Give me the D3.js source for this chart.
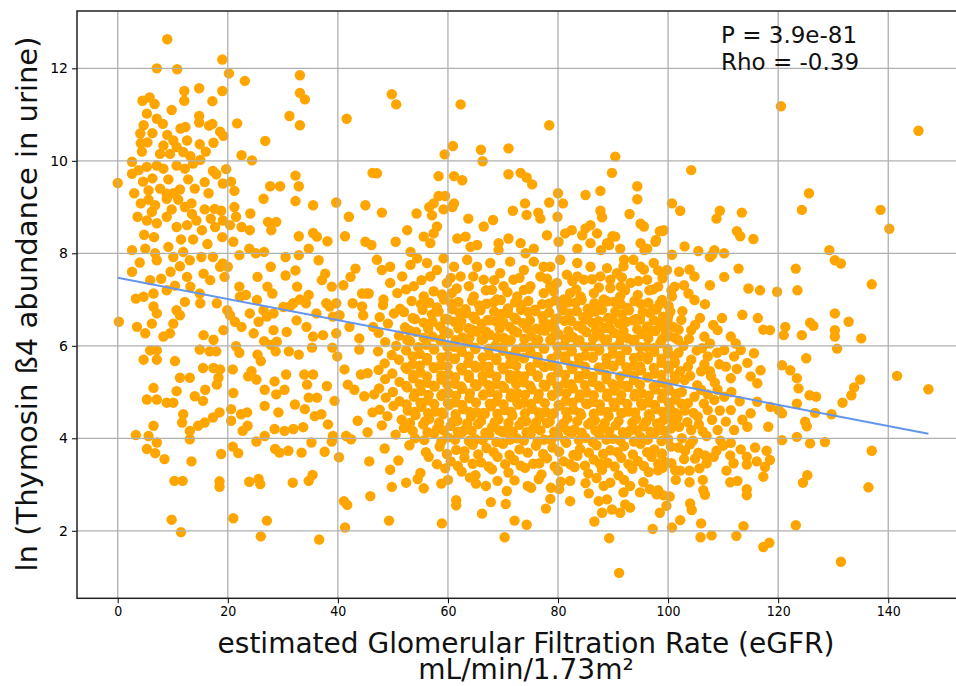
<!DOCTYPE html>
<html>
<head>
<meta charset="utf-8">
<script src="https://cdn.jsdelivr.net/npm/d3@7"></script>
<style>
  body { margin: 0; background: #fff; }
  svg { display: block; font-family: "DejaVu Sans", sans-serif; }
</style>
</head>
<body>
<svg id="chart" width="956" height="686"></svg>
<script>
// tick values and labels
const xTicks = [0, 20, 40, 60, 80, 100, 120, 140];
const yTicks = [2, 4, 6, 8, 10, 12];
const xLabel = ["estimated Glomerular Filtration Rate (eGFR)", "mL/min/1.73m\u00B2"];
const yLabel = "ln (Thymosin \u00DF4 abundance in urine)";
const statText = ["P = 3.9e-81", "Rho = -0.39"];

// regression line end points (eGFR, ln value)
const fitEgfr = [0, 147.3];
const fitLn = [7.47, 4.10];

// points with eGFR below ~47
const lowEgfrPts = [
[9.0,12.63],[7.1,12.0],[10.8,11.98],[19.0,12.19],[20.2,11.89],[23.1,11.73],[33.1,11.85],[33.1,11.47],[34.0,11.33],[31.2,10.97],[33.1,10.77],[41.6,10.91],[12.1,11.51],[12.1,11.3],[14.8,11.57],[19.0,11.51],[17.2,11.29],[4.5,11.3],[5.8,11.37],[6.7,11.23],[5.3,11.02],[7.1,10.91],[14.8,10.97],[14.8,10.83],[16.6,10.76],[17.2,10.8],[21.7,10.81],[4.7,10.77],[4.1,10.59],[4.2,10.38],[4.4,10.2],[5.4,10.4],[9.0,10.56],[11.4,10.7],[12.3,10.73],[12.6,10.44],[10.7,10.3],[8.3,10.33],[7.7,10.15],[9.5,10.15],[11.9,10.19],[10.1,10.44],[14.9,10.36],[17.4,10.39],[18.6,10.63],[19.2,10.54],[26.8,10.43],[22.5,10.12],[24.4,10.01],
[2.6,9.98],[2.6,9.72],[3.8,9.8],[5.3,9.87],[7.1,9.9],[8.3,9.83],[10.7,9.9],[12.2,9.83],[13.7,9.94],[15.0,10.02],[0,9.52],[5.6,9.36],[7.7,9.4],[8.9,9.29],[11.3,9.38],[14.0,9.4],[15.8,9.54],[17.3,9.78],[17.9,9.71],[19.7,9.82],[19.1,9.51],[20.6,9.55],[21.2,9.35],[27.7,9.45],[29.5,9.45],[32.3,9.68],[32.9,9.45],[26.5,9.18],[32.3,9.13],[35.5,9.04],[39.7,9.1],[45.0,9.04],[46.3,9.74],
[4.2,9.08],[3.6,8.79],[5.6,9.16],[6.8,9.04],[8.9,9.18],[11.0,9.16],[12.2,9.0],[13.4,9.08],[15.8,8.95],[17.6,8.96],[18.8,8.92],[21.2,9.0],[21.5,8.79],[24.1,8.86],[5.3,8.71],[7.1,8.65],[8.9,8.79],[10.7,8.57],[12.6,8.61],[14.3,8.71],[15.3,8.5],[17.7,8.57],[19.1,8.71],[20.4,8.61],[22.5,8.57],[24.0,8.5],[27.3,8.68],[28.8,8.68],[27.9,8.5],[32.9,8.37],[35.5,8.44],[36.2,8.36],[38.1,8.26],[41.3,8.37],[42.0,8.79],[45.0,8.25],[46.1,8.18],
[2.6,8.07],[5.0,8.1],[6.8,8.0],[7.1,7.85],[9.2,8.14],[10.1,7.92],[11.9,8.03],[13.1,7.85],[15.2,7.92],[17.3,7.92],[19.1,7.78],[20.0,7.71],[22.1,7.96],[23.9,8.1],[25.1,8.0],[26.6,8.03],[27.8,7.71],[30.5,7.92],[32.9,7.96],[34.7,8.1],[36.5,7.85],[37.7,7.56],[37.1,7.42],[38.9,7.28],[41.0,7.31],[43.2,7.67],[42.3,7.49],[44.4,7.13],[45.6,7.13],
[2.6,7.6],[5.9,7.42],[6.5,7.13],[4.7,7.06],[3.3,7.02],[8.9,7.2],[12.6,7.49],[13.2,7.28],[14.9,7.13],[15.6,7.56],[16.8,7.42],[18.6,7.71],[19.4,7.49],[22.1,7.28],[23.3,7.1],[25.4,7.49],[27.2,7.28],[28.1,7.13],[30.5,7.52],[32.3,7.63],[32.6,7.28],[34.7,7.1],
[3.0,9.3],[4.6,9.55],[6.3,9.62],[9.2,9.6],[10.1,9.3],[12.8,9.6],[16.5,9.3],[6.2,8.9],[9.8,8.95],[13.5,8.85],[16.9,8.75],[4.8,8.4],[6.6,8.35],[11.5,8.3],[13.7,8.3],[16.3,8.2],[19.0,8.35],[21.0,8.25],[9.6,7.6],[11.3,7.72],[7.9,7.45],[4.0,7.8],[10.4,7.3],[6.3,10.6],[8.2,10.8],[13.2,10.1],[16.0,10.2],[9.8,11.1],
[6.5,6.85],[7.1,6.7],[10.7,6.77],[15.0,6.92],[18.0,6.92],[19.9,6.77],[20.4,6.66],[25.3,6.99],[26.5,6.77],[28.3,6.7],[31.3,6.85],[34.2,6.92],[36.1,6.7],[38.5,6.85],[40.3,6.66],[42.7,6.92],[44.4,6.85],[0.2,6.52],
[6.2,6.48],[5.0,6.27],[3.5,6.41],[8.3,6.2],[9.5,6.27],[10.1,6.48],[11.3,6.66],[12.2,6.95],[15.6,6.23],[17.4,6.13],[19.2,6.34],[21.3,6.52],[22.2,7.06],[22.5,6.41],[24.0,6.7],[24.7,6.27],[25.6,6.52],[27.1,6.63],[28.3,6.34],[28.9,6.09],[30.7,6.3],[30.1,6.84],[31.9,6.92],[33.1,7.0],[32.5,6.55],[34.3,6.41],[35.5,6.2],[37.3,6.23],[37.9,6.92],[39.7,6.92],[39.1,6.63],[39.7,6.27],[42.1,6.41],[43.9,6.16],[44.6,6.66],[46.4,6.41],[45.2,7.13],
[5.9,5.9],[7.1,5.9],[4.7,5.7],[7.1,5.7],[10.4,5.67],[14.9,5.92],[16.7,5.88],[17.9,5.88],[21.5,5.99],[22.1,5.85],[26.6,6.1],[27.8,6.02],[25.4,5.81],[26.0,5.67],[28.7,5.88],[31.1,5.88],[32.9,5.81],[35.3,5.96],[39.0,5.96],[39.9,5.77],[43.9,5.92],[11.3,5.31],[13.1,5.31],[10.7,5.02],[15.5,5.52],[17.4,5.52],[18.6,5.49],[18.3,5.31],[18.0,5.16],[15.9,5.05],[20.9,5.49],[21.0,4.98],[23.7,5.34],[24.3,5.45],[25.2,5.27],[26.7,5.05],[28.5,5.23],[30.6,5.38],[28.8,4.95],[30.3,5.05],[33.9,5.38],[35.5,5.38],[34.4,5.16],[38.0,5.13],[36.2,4.88],[34.7,4.88],[39.4,4.81],[41.2,5.49],[41.8,5.16],[43.0,5.05],[44.2,5.38],[45.4,5.41],[44.8,4.91],[46.6,4.95],
[6.5,5.09],[7.1,4.84],[5.3,4.84],[8.9,4.77],[10.1,4.77],[11.9,4.52],[14.0,4.91],[15.5,4.81],[11.7,4.34],[13.1,4.16],[13.1,3.98],[14.6,4.27],[15.8,4.34],[17.3,4.45],[18.5,4.56],[20.6,4.63],[20.6,4.38],[22.4,4.52],[23.5,4.56],[22.7,4.16],[23.6,4.27],[26.7,4.7],[26.7,4.05],[28.5,4.2],[29.2,4.56],[30.3,4.16],[31.9,4.2],[32.2,4.73],[34.0,4.63],[33.7,4.24],[35.8,4.48],[37.0,4.52],[38.2,4.3],[39.1,4.05],[41.5,4.05],[42.4,3.98],[43.6,4.38],[45.4,4.13],[46.3,4.56],[6.5,4.27],[5.6,4.05],[3.3,4.07],
[7.1,3.91],[5.3,3.77],[6.8,3.68],[8.5,3.55],[13.4,3.5],[18.8,3.66],[20.9,3.82],[21.9,3.68],[25.2,3.93],[28.6,3.77],[29.4,3.69],[31.0,3.73],[33.4,3.69],[35.2,3.91],[37.6,3.71],[38.9,3.93],[40.2,3.59],[45.7,3.5],[10.3,3.08],[11.8,3.08],[18.5,3.07],[18.5,2.95],[23.9,3.06],[25.6,3.12],[25.9,3.01],[31.8,3.04],[34.7,3.08],[35.4,3.21],[41.1,2.64],[41.7,2.56],[45.9,2.75],[9.8,2.24],[11.5,1.97],[21.0,2.27],[27.1,2.22],[26.0,1.88],[36.6,1.81],[41.3,2.07]
];

// points with eGFR about 47 to 101, upper part (above ~7)
const midUpperPts = [
[49.8,11.44],[50.6,11.22],[62.3,11.22],[78.4,10.77],[60.9,10.32],[59.4,10.14],[66.0,10.24],[66.3,9.99],[71.0,10.27],[90.4,10.09],[89.8,9.74],[47.1,9.73],[58.3,9.67],[61.1,9.67],[62.6,9.58],[71.0,9.71],[73.2,9.74],[74.3,9.64],[75.3,9.49],[80.0,9.3],[78.4,9.1],[80.9,9.08],[85.0,9.26],[87.7,9.35],[94.4,9.45],[94.4,9.17],[58.3,9.24],[59.5,9.24],[57.4,9.08],[56.6,9.0],[61.1,9.08],[60.8,9.0],[48.0,8.88],[54.3,8.86],[59.2,8.95],[63.7,8.75],[68.2,8.72],[71.8,8.92],[74.0,9.08],[74.3,8.83],[76.4,8.88],[79.9,8.79],[87.7,8.92],[88.0,8.78],[93.0,8.85],
[52.6,8.5],[57.1,8.82],[58.0,8.58],[55.6,8.36],[56.8,8.22],[50.5,8.25],[53.2,8.03],[57.4,8.43],[61.7,8.32],[63.2,8.36],[64.1,8.14],[65.3,8.18],[66.5,8.58],[69.2,8.22],[69.2,8.07],[71.0,8.32],[73.2,8.22],[74.1,8.0],[76.8,8.75],[75.6,8.1],[78.0,8.39],[80.1,8.25],[81.3,8.43],[82.5,8.5],[84.4,8.39],[85.0,8.54],[85.9,8.61],[87.1,8.43],[90.4,8.36],[91.3,8.1],[95.6,8.58],[97.7,8.25],[99.2,8.5],[95.0,8.22],[96.2,8.1],[83.5,8.1],[85.9,8.22],[88.9,8.22],
[95.0,8.64],[98.5,8.48],[95.7,8.07],[89.9,8.37],[89.3,8.18],[87.8,8.07],[93.7,7.86],[95.6,7.65],[91.9,7.72],[88.9,7.68],[89.5,7.43],[91.4,7.28],[94.5,7.1],[96.6,7.2],[98.2,7.28],
[47.1,7.86],[49.5,7.71],[48.0,7.64],[51.7,7.5],[53.2,7.75],[54.4,7.89],[56.2,7.79],[56.8,7.5],[53.8,7.29],[55.6,7.07],[50.8,7.14],[48.3,7.0],[49.5,7.36],[58.0,7.64],[59.2,7.89],[59.8,7.36],[58.9,7.11],[61.1,7.71],[62.3,7.5],[63.5,7.86],[63.8,7.29],[65.3,7.71],[66.5,7.43],[67.7,7.79],[68.0,7.21],[69.5,7.57],[70.1,7.29],[71.3,7.82],[71.9,7.43],[72.6,7.07],[73.8,7.64],[75.0,7.29],[75.6,7.82],[76.8,7.5],[77.4,7.14],[78.6,7.71],[79.8,7.36],[80.4,7.86],[81.6,7.54],[82.2,7.14],[83.5,7.79],[84.7,7.43],[85.9,7.71],[86.5,7.14],[87.7,7.5],[89.5,7.25],[90.7,7.57],[92.0,7.86],[93.2,7.36],[95.0,7.71],[96.2,7.43],[97.4,7.79],[99.8,7.64],[100.7,7.07],[60.7,7.14],[64.7,7.07],[68.9,7.0],[73.8,7.21],[78.6,7.29],[81.0,7.0],[84.1,7.07],[88.3,7.0],[91.3,7.07],[83.5,7.5],[77.4,7.71],
[52.4,7.22],[57.4,7.18],[61.6,7.24],[66.9,7.2],[70.8,7.16],[74.7,7.23],[79.2,7.18],[83.3,7.22],[87.4,7.26],[92.2,7.2],[97.3,7.22],
[55.2,7.42],[60.5,7.47],[64.6,7.5],[68.4,7.42],[73.0,7.47],[78.0,7.45],[82.6,7.4],[86.2,7.44],[91.6,7.48],[94.6,7.4],[99.0,7.46]
];

// points with eGFR about 47 to 101, dense core (ln value ~3 to 7)
const midCorePts = [
[48.2,6.88],[51.3,6.8],[55.1,6.9],[58.0,6.83],[60.6,6.92],[63.2,6.79],[65.7,6.87],[68.3,6.94],[70.9,6.81],[73.4,6.89],[75.8,6.78],[78.3,6.91],[80.6,6.84],[83.2,6.93],[85.4,6.8],[87.7,6.88],[90.2,6.95],[92.6,6.82],[95.1,6.9],[97.6,6.79],[100.1,6.86],
[47.6,6.62],[50.2,6.7],[53.6,6.6],[57.1,6.68],[59.5,6.58],[62.1,6.72],[64.6,6.63],[67.2,6.56],[69.7,6.69],[72.1,6.61],[74.6,6.73],[77.2,6.64],[79.6,6.57],[82.1,6.7],[84.6,6.62],[86.8,6.74],[89.1,6.6],[91.6,6.68],[94.2,6.58],[96.7,6.71],[99.1,6.63],
[49.1,6.48],[52.2,6.4],[55.6,6.5],[58.6,6.42],[61.2,6.52],[63.7,6.38],[66.1,6.47],[68.7,6.53],[71.2,6.41],[73.6,6.49],[76.1,6.37],[78.7,6.46],[81.2,6.54],[83.6,6.43],[86.2,6.5],[88.6,6.39],[91.1,6.48],[93.7,6.55],[96.2,6.42],[98.6,6.47],[101.0,6.4],
[47.4,6.28],[51.1,6.22],[54.2,6.3],[57.2,6.2],[60.1,6.27],[62.6,6.18],[65.2,6.31],[67.6,6.24],[70.2,6.17],[72.6,6.29],[75.1,6.21],[77.6,6.33],[80.1,6.25],[82.7,6.19],[85.1,6.3],[87.6,6.22],[90.2,6.28],[92.7,6.16],[95.2,6.26],[97.7,6.32],[100.2,6.21],
[48.6,6.08],[50.6,6.0],[53.1,6.1],[56.1,6.02],[58.6,6.12],[61.1,5.98],[63.6,6.07],[66.1,6.13],[68.6,6.0],[71.1,6.09],[73.6,5.97],[76.1,6.06],[78.6,6.12],[81.1,6.01],[83.6,6.08],[86.1,5.99],[88.6,6.1],[91.1,6.03],[93.6,6.11],[96.1,5.98],[98.6,6.06],
[47.3,5.88],[49.8,5.8],[52.4,5.9],[54.9,5.82],[57.5,5.92],[60.0,5.78],[62.5,5.87],[65.0,5.93],[67.5,5.8],[70.0,5.89],[72.5,5.77],[75.0,5.86],[77.5,5.94],[80.0,5.81],[82.5,5.88],[85.0,5.79],[87.5,5.9],[90.0,5.83],[92.5,5.91],[95.0,5.78],[97.5,5.87],[100.0,5.84],
[48.5,5.62],[51.1,5.7],[53.6,5.6],[56.2,5.68],[58.7,5.58],[61.2,5.72],[63.7,5.63],[66.3,5.56],[68.8,5.69],[71.3,5.61],[73.8,5.73],[76.3,5.64],[78.8,5.57],[81.3,5.7],[83.8,5.62],[86.3,5.74],[88.8,5.6],[91.3,5.68],[93.8,5.58],[96.3,5.71],[98.8,5.63],[101.2,5.66],
[47.4,5.48],[49.9,5.4],[52.5,5.5],[55.0,5.42],[57.5,5.52],[60.1,5.38],[62.6,5.47],[65.1,5.53],[67.6,5.41],[70.1,5.49],[72.6,5.37],[75.1,5.46],[77.6,5.54],[80.1,5.43],[82.6,5.5],[85.1,5.39],[87.6,5.48],[90.1,5.55],[92.6,5.42],[95.1,5.47],[97.6,5.4],[100.1,5.51],
[48.6,5.28],[51.2,5.22],[53.7,5.3],[56.2,5.2],[58.8,5.27],[61.3,5.18],[63.8,5.31],[66.3,5.24],[68.8,5.17],[71.3,5.29],[73.8,5.21],[76.3,5.33],[78.8,5.25],[81.3,5.19],[83.8,5.3],[86.3,5.22],[88.8,5.28],[91.3,5.16],[93.8,5.26],[96.3,5.32],[98.8,5.21],[101.3,5.27],
[47.5,5.08],[50.0,5.0],[52.6,5.1],[55.1,5.02],[57.6,5.12],[60.1,4.98],[62.6,5.07],[65.2,5.13],[67.7,5.0],[70.2,5.09],[72.7,4.97],[75.2,5.06],[77.7,5.12],[80.2,5.01],[82.7,5.08],[85.2,4.99],[87.7,5.1],[90.2,5.03],[92.7,5.11],[95.2,4.98],[97.7,5.06],[100.2,5.04],
[48.7,4.88],[51.2,4.8],[53.8,4.9],[56.3,4.82],[58.8,4.92],[61.3,4.78],[63.9,4.87],[66.4,4.93],[68.9,4.8],[71.4,4.89],[73.9,4.77],[76.4,4.86],[78.9,4.94],[81.4,4.81],[83.9,4.88],[86.4,4.79],[88.9,4.9],[91.4,4.83],[93.9,4.91],[96.4,4.78],[98.9,4.87],[101.3,4.84],
[47.6,4.62],[50.1,4.7],[52.7,4.6],[55.2,4.68],[57.7,4.58],[60.2,4.72],[62.8,4.63],[65.3,4.56],[67.8,4.69],[70.3,4.61],[72.8,4.73],[75.3,4.64],[77.8,4.57],[80.3,4.7],[82.8,4.62],[85.3,4.74],[87.8,4.6],[90.3,4.68],[92.8,4.58],[95.3,4.71],[97.8,4.63],[100.3,4.66],
[49.0,4.48],[51.6,4.4],[54.1,4.5],[56.6,4.42],[59.1,4.52],[61.7,4.38],[64.2,4.47],[66.7,4.53],[69.2,4.41],[71.7,4.49],[74.2,4.37],[76.7,4.46],[79.2,4.54],[81.7,4.43],[84.2,4.5],[86.7,4.39],[89.2,4.48],[91.7,4.55],[94.2,4.42],[96.7,4.47],[99.2,4.4],[101.5,4.51],
[48.0,4.28],[52.0,4.22],[55.5,4.3],[58.0,4.2],[60.5,4.27],[63.0,4.18],[65.5,4.31],[68.0,4.24],[70.5,4.17],[73.0,4.29],[75.5,4.21],[78.0,4.33],[80.5,4.25],[83.0,4.19],[85.5,4.3],[88.0,4.22],[90.5,4.28],[93.0,4.16],[95.5,4.26],[98.0,4.32],[100.5,4.21],
[50.5,4.08],[54.0,4.0],[57.5,4.1],[60.0,4.02],[62.5,4.12],[65.0,3.98],[67.5,4.07],[70.0,4.13],[72.5,4.0],[75.0,4.09],[77.5,3.97],[80.0,4.06],[82.5,4.12],[85.0,4.01],[87.5,4.08],[90.0,3.99],[92.5,4.1],[95.0,4.03],[97.5,4.11],[100.0,3.98],
[48.5,3.78],[53.0,3.85],[58.5,3.82],[61.5,3.75],[64.5,3.86],[67.0,3.79],[70.0,3.88],[73.0,3.76],[76.0,3.84],[79.0,3.8],[81.5,3.9],[84.0,3.77],[87.0,3.85],[89.5,3.74],[92.0,3.83],[95.0,3.88],[97.5,3.76],[100.5,3.82],
[51.0,3.52],[56.5,3.6],[60.5,3.5],[63.0,3.58],[66.0,3.48],[69.0,3.6],[72.0,3.53],[75.5,3.45],[78.0,3.57],[81.0,3.5],[83.5,3.62],[86.5,3.54],[89.0,3.47],[91.5,3.58],[94.5,3.51],[97.0,3.6],[99.5,3.49],
[49.5,3.32],[55.0,3.25],[59.5,3.35],[62.5,3.28],[65.0,3.2],[68.0,3.33],[71.0,3.26],[74.0,3.36],[77.0,3.22],[80.0,3.3],[83.0,3.38],[85.5,3.24],[88.0,3.32],[91.0,3.2],[93.5,3.34],[96.5,3.27],[99.0,3.36],
[54.5,3.12],[60.0,3.1],[64.0,3.15],[69.0,3.08],[76.5,3.12],[80.5,3.06],[87.0,3.14],[92.0,3.1],[95.5,3.05]
];

// more points in the packed core, between the rows above
const midCoreFill = [
[53.4,6.97],[56.6,6.93],[59.3,7.0],[61.9,6.95],[64.4,6.98],[67.0,6.91],[69.6,6.99],[72.2,6.94],[74.6,6.97],[77.1,6.9],[79.5,6.98],[81.9,6.94],[84.3,6.99],[86.6,6.92],[89.0,6.96],[91.4,6.9],[93.9,6.97],[96.4,6.93],[98.9,6.99],
[52.0,6.73],[55.4,6.78],[58.3,6.74],[60.8,6.79],[63.3,6.71],[65.9,6.77],[68.4,6.74],[70.9,6.71],[73.3,6.78],[75.9,6.75],[78.4,6.72],[80.9,6.77],[83.4,6.75],[85.7,6.71],[88.0,6.78],[90.4,6.74],[92.9,6.77],[95.4,6.73],[97.9,6.79],[100.4,6.74],
[54.0,6.58],[57.2,6.52],[60.0,6.57],[62.4,6.53],[64.9,6.58],[67.5,6.55],[70.0,6.52],[72.4,6.57],[74.9,6.55],[77.4,6.52],[79.9,6.59],[82.4,6.54],[84.9,6.57],[87.4,6.53],[89.9,6.58],[92.4,6.52],[94.9,6.57],[97.4,6.55],[99.9,6.53],
[53.0,6.33],[56.4,6.37],[59.3,6.32],[61.9,6.38],[64.4,6.35],[66.9,6.31],[69.4,6.37],[71.9,6.33],[74.4,6.38],[76.9,6.34],[79.4,6.36],[81.9,6.32],[84.4,6.37],[86.9,6.34],[89.4,6.38],[91.9,6.32],[94.4,6.36],[96.9,6.33],[99.4,6.37],
[52.6,6.13],[55.6,6.17],[58.7,6.14],[61.4,6.12],[63.9,6.17],[66.4,6.14],[68.9,6.18],[71.4,6.12],[73.9,6.15],[76.4,6.13],[78.9,6.17],[81.4,6.14],[83.9,6.12],[86.4,6.16],[88.9,6.14],[91.4,6.17],[93.9,6.13],[96.4,6.16],[98.9,6.14],[101.3,6.17],
[54.6,5.97],[57.4,5.94],[59.9,5.98],[62.4,5.93],[64.9,5.96],[67.4,5.94],[69.9,5.97],[72.4,5.92],[74.9,5.96],[77.4,5.94],[79.9,5.98],[82.4,5.93],[84.9,5.97],[87.4,5.94],[89.9,5.96],[92.4,5.92],[94.9,5.97],[97.4,5.95],[99.9,5.93],
[53.6,5.77],[56.2,5.74],[58.8,5.75],[61.3,5.72],[63.8,5.77],[66.3,5.75],[68.8,5.73],[71.3,5.78],[73.8,5.74],[76.3,5.76],[78.8,5.72],[81.3,5.77],[83.8,5.74],[86.3,5.76],[88.8,5.73],[91.3,5.78],[93.8,5.74],[96.3,5.76],[98.8,5.72],[101.1,5.77],
[52.3,5.53],[54.9,5.57],[57.4,5.54],[59.9,5.56],[62.4,5.52],[64.9,5.57],[67.4,5.55],[69.9,5.53],[72.4,5.57],[74.9,5.54],[77.4,5.56],[79.9,5.52],[82.4,5.57],[84.9,5.55],[87.4,5.53],[89.9,5.57],[92.4,5.54],[94.9,5.56],[97.4,5.52],[99.9,5.57],
[53.7,5.37],[56.2,5.34],[58.8,5.36],[61.3,5.32],[63.8,5.37],[66.3,5.35],[68.8,5.33],[71.3,5.37],[73.8,5.34],[76.3,5.36],[78.8,5.32],[81.3,5.37],[83.8,5.35],[86.3,5.33],[88.8,5.37],[91.3,5.34],[93.8,5.36],[96.3,5.32],[98.8,5.37],[101.2,5.35],
[52.4,5.13],[54.9,5.17],[57.4,5.14],[59.9,5.16],[62.4,5.12],[64.9,5.17],[67.4,5.15],[69.9,5.13],[72.4,5.17],[74.9,5.14],[77.4,5.16],[79.9,5.12],[82.4,5.17],[84.9,5.15],[87.4,5.13],[89.9,5.17],[92.4,5.14],[94.9,5.16],[97.4,5.12],[99.9,5.17],
[54.0,4.97],[56.5,4.94],[59.0,4.96],[61.5,4.92],[64.0,4.97],[66.5,4.95],[69.0,4.93],[71.5,4.97],[74.0,4.94],[76.5,4.96],[79.0,4.92],[81.5,4.97],[84.0,4.95],[86.5,4.93],[89.0,4.97],[91.5,4.94],[94.0,4.96],[96.5,4.92],[99.0,4.97],[101.4,4.95],
[52.5,4.73],[55.0,4.77],[57.5,4.74],[60.0,4.76],[62.6,4.72],[65.1,4.77],[67.6,4.75],[70.1,4.73],[72.6,4.77],[75.1,4.74],[77.6,4.76],[80.1,4.72],[82.6,4.77],[85.1,4.75],[87.6,4.73],[90.1,4.77],[92.6,4.74],[95.1,4.76],[97.6,4.72],[100.1,4.77],
[53.9,4.57],[56.4,4.54],[58.9,4.56],[61.4,4.52],[64.0,4.57],[66.5,4.55],[69.0,4.53],[71.5,4.57],[74.0,4.54],[76.5,4.56],[79.0,4.52],[81.5,4.57],[84.0,4.55],[86.5,4.53],[89.0,4.57],[91.5,4.54],[94.0,4.56],[96.5,4.52],[99.0,4.57],[101.3,4.55],
[53.1,4.33],[55.9,4.37],[58.4,4.34],[60.9,4.36],[63.5,4.32],[66.0,4.37],[68.5,4.35],[71.0,4.33],[73.5,4.37],[76.0,4.34],[78.5,4.36],[81.0,4.32],[83.5,4.37],[86.0,4.35],[88.5,4.33],[91.0,4.37],[93.5,4.34],[96.0,4.36],[98.5,4.32],[100.9,4.37],
[53.6,4.16],[56.3,4.13],[59.2,4.17],[61.8,4.14],[64.3,4.16],[66.8,4.12],[69.3,4.17],[71.8,4.15],[74.3,4.13],[76.8,4.17],[79.3,4.14],[81.8,4.16],[84.3,4.12],[86.8,4.17],[89.3,4.15],[91.8,4.13],[94.3,4.17],[96.8,4.14],[99.3,4.16],
[55.7,3.96],[58.8,3.93],[61.3,3.97],[63.8,3.94],[66.3,3.96],[68.8,3.92],[71.3,3.97],[73.8,3.95],[76.3,3.93],[78.8,3.97],[81.3,3.94],[83.8,3.96],[86.3,3.92],[88.8,3.97],[91.3,3.95],[93.8,3.93],[96.3,3.97],[98.8,3.94],
[56.0,3.7],[59.8,3.66],[63.0,3.72],[65.5,3.65],[68.3,3.7],[71.2,3.64],[74.5,3.69],[77.3,3.66],[80.2,3.71],[82.8,3.64],[85.6,3.69],[88.2,3.66],[90.8,3.7],[93.6,3.65],[96.2,3.7],[98.9,3.67],
[58.0,3.44],[61.8,3.4],[64.5,3.45],[67.4,3.39],[70.4,3.44],[73.2,3.41],[76.6,3.46],[79.4,3.39],[82.2,3.44],[84.9,3.41],[87.6,3.45],[90.3,3.39],[92.8,3.44],[95.6,3.4],[98.2,3.45]
];

// points with eGFR about 47 to 101, low values (below ~3)
const midLowerPts = [
[49.8,2.95],[52.4,3.04],[55.6,2.92],[58.8,3.02],[49.3,2.22],[58.9,2.16],[61.5,2.66],[61.5,2.55],[65.1,3.02],[66.9,2.97],[70.7,2.86],[70.5,2.58],[67.8,2.62],[66.2,2.37],[72.1,2.22],[74.3,2.13],[70.3,1.86],[72.1,3.09],[74.5,2.97],[75.1,2.93],[77.8,2.48],[78.6,2.69],[78.7,2.93],[80.2,2.9],[82.2,2.64],[82.2,3.08],[85.6,2.81],[85.0,3.03],[87.4,2.64],[88.0,2.39],[86.6,2.2],[89.3,1.84],[91.1,1.09],[88.9,2.68],[89.8,2.46],[91.3,2.39],[92.2,2.57],[93.1,2.5],[91.9,2.83],[93.1,2.97],[94.9,2.83],[96.7,2.9],[97.9,2.79],[98.5,2.39],[99.7,2.54],[97.2,2.04],[100.7,2.07],[88.3,2.97],[89.5,3.04]
];

// points with eGFR above ~97
const highEgfrPts = [
[120.5,11.18],[145.5,10.65],[104.2,9.8],[100.7,9.08],[102.2,8.92],[99.0,8.48],[97.8,8.29],[109.4,8.92],[108.8,8.75],[113.4,8.88],[112.5,8.48],[113.1,8.37],[115.5,8.31],[108.4,8.07],[108.0,7.97],[110.2,8.0],[100.7,7.97],[124.3,8.94],[125.6,9.3],[138.6,8.94],[140.2,8.53],[129.3,8.07],[130.3,7.85],
[131.4,7.78],[137.0,7.33],[123.2,7.67],[123.5,7.2],[119.8,7.17],[130.3,6.7],[132.8,6.52],[135.1,6.16],[130.3,6.34],[130.3,6.2],[130.7,5.94],[125.8,6.5],[126.4,6.43],[124.3,6.23],[125.1,5.73],[121.3,6.41],[121.0,6.23],[141.6,5.35],[147.3,5.06],[134.9,5.27],[133.8,5.1],[133.3,4.93],[131.7,4.77],[129.7,4.52],[126.7,4.55],[125.7,4.93],[126.9,4.9],[123.4,4.75],[124.9,4.36],[125.2,4.26],[123.4,4.03],[125.8,3.89],[128.5,3.92],[120.7,3.96],[137.0,3.73],[136.4,2.94],[125.3,3.2],[124.5,3.04],[123.2,2.12],[131.4,1.33],[117.3,1.65],[118.4,1.74],[113.7,2.1],[112.4,1.89],[107.9,1.9],[105.9,1.86],[106.0,2.16],[102.2,2.23],
[114.3,2.77],[114.3,2.9],[111.3,3.05],[112.6,3.08],[106.4,2.88],[106.7,2.78],[103.9,3.05],[106.3,3.1],[104.0,2.59],[104.3,2.45],[99.1,2.77],[98.2,2.88],[100.3,2.74],[98.2,3.31],[101.3,3.31],[102.2,3.3],[100.6,3.46],[115.8,3.8],[117.9,3.73],[118.5,3.53],[117.6,3.38],[117.3,3.17],[116.1,3.5],[114.3,3.6],[114.3,3.43],[111.9,3.46],[111.3,3.63],[110.0,3.84],[108.8,3.73],[106.7,3.63],[107.0,3.46],[104.9,3.56],[105.5,3.69],[103.1,3.73],[104.0,3.87],[101.9,3.8],[102.5,4.0],[98.8,3.66],
[116.7,7.2],[114.6,7.24],[112.8,7.67],[110.2,7.49],[107.6,7.31],[106.7,6.9],[103.9,7.65],[102.9,7.31],[113.5,6.67],[116.3,6.6],[117.3,6.35],[118.5,6.34],[120.7,5.58],[122.2,5.47],[123.4,5.3],[123.7,5.08],[120.7,4.54],[118.2,4.25],[120.1,4.61],[118.6,4.68],[116.2,4.79],[115.0,4.54],[114.4,4.25],[113.5,4.4],[111.4,4.61],[112.0,4.18],[110.5,4.36],[116.2,5.19],[116.8,5.47],[115.0,5.34],[114.4,5.63],[115.6,5.84],[113.2,5.91],[112.0,5.77],[111.4,5.3],[109.3,5.6],[107.8,5.34],[109.0,5.05],[110.2,4.9],[107.2,4.61],[105.4,4.47],[103.6,4.76],[101.8,4.97],[100.6,4.47],[98.8,4.18],[104.2,4.18],[109.0,4.18],[111.4,3.9],[113.2,3.76],[99.4,5.19],[103.0,5.26],[106.0,5.05],[108.4,4.83],[101.2,5.63],[104.2,5.7],[107.2,5.77],[110.2,5.91],[111.4,6.2],[109.0,6.34],[106.6,6.2],[104.2,6.34],[101.8,6.13],[99.4,6.2],[100.0,6.63],[102.4,6.56],[104.8,6.99],[100.6,7.2],[98.5,6.91],[98.2,7.63],[107.6,7.92],
[101.2,7.28],[103.7,7.13],[105.8,6.6],[108.2,6.45],[102.8,6.0],[105.2,5.9],[107.6,6.05],[110.5,5.55],[103.6,5.55],[106.0,5.45],[108.5,5.2],[102.5,5.0],[104.8,4.9],[107.2,4.95],[103.0,4.6],[105.6,4.3],[108.0,4.4],[102.0,4.25],[104.5,3.95],[107.0,4.05],[109.5,3.95],[111.5,5.0],[112.5,5.5],[109.8,6.6],[112.3,6.05],[102.0,7.6],[104.8,7.5],[105.5,8.05],[103.0,8.15],[113.0,4.8],
[102.6,6.75],[104.9,6.45],[101.9,6.35],[103.8,6.15],[106.2,5.95],[101.9,5.85],[104.0,5.35],[106.6,5.6],[108.9,5.85],[102.2,5.45],[105.3,5.15],[107.6,5.45],[102.4,4.75],[104.6,4.55],[106.5,4.75],[109.4,4.6],[101.7,4.45],[103.5,4.35],[106.3,4.15],[102.9,3.55],[105.7,3.35],[108.3,3.6],[110.6,3.3],[101.4,3.1],[103.9,3.3]
];

const allPts = [].concat(lowEgfrPts, midUpperPts, midCorePts, midCoreFill, midLowerPts, highEgfrPts);

const svg = d3.select("#chart");
const margin = {top: 11, left: 77};
const width = 896, height = 587.3;

const x = d3.scaleLinear().domain([-7.4, 155.4]).range([0, width]);
const y = d3.scaleLinear().domain([0.54, 13.24]).range([height, 0]);

const g = svg.append("g")
  .attr("transform", `translate(${margin.left},${margin.top})`);

// scatter points
g.append("g")
  .selectAll("circle")
  .data(allPts)
  .join("circle")
  .attr("cx", d => x(d[0]))
  .attr("cy", d => y(d[1]))
  .attr("r", 5.2)
  .attr("fill", "#ffa500");

// grid lines sit above the points like in the original
g.append("g")
  .selectAll("line")
  .data(xTicks)
  .join("line")
  .attr("x1", d => x(d)).attr("x2", d => x(d))
  .attr("y1", 0).attr("y2", height)
  .attr("stroke", "#b0b0b0")
  .attr("stroke-width", 1.3);

g.append("g")
  .selectAll("line")
  .data(yTicks)
  .join("line")
  .attr("x1", 0).attr("x2", width)
  .attr("y1", d => y(d)).attr("y2", d => y(d))
  .attr("stroke", "#b0b0b0")
  .attr("stroke-width", 1.3);

// regression line
g.append("line")
  .attr("x1", x(fitEgfr[0])).attr("y1", y(fitLn[0]))
  .attr("x2", x(fitEgfr[1])).attr("y2", y(fitLn[1]))
  .attr("stroke", "#6495ed")
  .attr("stroke-width", 2);

// axes
const xAxis = g.append("g")
  .attr("transform", `translate(0,${height})`)
  .call(d3.axisBottom(x).tickValues(xTicks).tickSize(5).tickPadding(3));
xAxis.select(".domain").remove();
xAxis.selectAll("text")
  .attr("font-size", 14)
  .attr("font-family", "'DejaVu Sans Condensed', 'DejaVu Sans', sans-serif")
  .attr("fill", "#000");

const yAxis = g.append("g")
  .call(d3.axisLeft(y).tickValues(yTicks).tickSize(5).tickPadding(4));
yAxis.select(".domain").remove();
yAxis.selectAll("text")
  .attr("font-size", 14)
  .attr("font-family", "'DejaVu Sans', sans-serif")
  .attr("fill", "#000");

// frame (right side falls outside the picture)
g.append("rect")
  .attr("x", 0).attr("y", 0)
  .attr("width", width).attr("height", height)
  .attr("fill", "none")
  .attr("stroke", "#222")
  .attr("stroke-width", 1.5);

// stats text
g.append("g")
  .selectAll("text")
  .data(statText)
  .join("text")
  .attr("x", 644)
  .attr("y", (d, i) => 32 + i * 27)
  .attr("font-size", 23)
  .attr("fill", "#111")
  .text(d => d);

// axis labels (two lines sit tight, as in the original)
svg.append("g")
  .selectAll("text")
  .data(xLabel)
  .join("text")
  .attr("x", 526)
  .attr("y", (d, i) => 653 + i * 26)
  .attr("text-anchor", "middle")
  .attr("font-size", 28)
  .attr("fill", "#111")
  .text(d => d);

svg.append("text")
  .attr("transform", "translate(37,304) rotate(-90)")
  .attr("text-anchor", "middle")
  .attr("font-size", 29)
  .attr("fill", "#111")
  .text(yLabel);
</script>
</body>
</html>
